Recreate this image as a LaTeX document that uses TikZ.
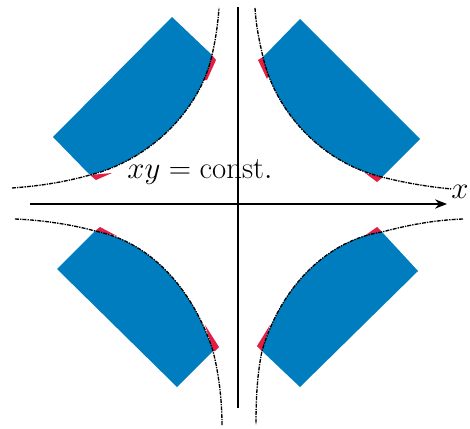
\documentclass[tikz,border=0pt]{standalone}
\usetikzlibrary{arrows.meta}
\definecolor{lobeblue}{RGB}{0, 125, 190}
\definecolor{rimred}{RGB}{225, 30, 70}
\begin{document}
\begin{tikzpicture}[
            x=0.75pt, y=-0.75pt,
            lobe/.style={fill=lobeblue},
            rim/.style={fill=rimred},
            hyper/.style={black, line width=1pt, dash pattern=on 3pt off 0.8pt on 1pt off 0.8pt},
            axis/.style={black, line width=1pt},
            label/.style={inner sep=0pt, scale=0.93, font=\fontsize{24.88}{30}\selectfont},
        ]
            \useasboundingbox (0,0) rectangle (470,428);

            % red ends under the blue regions
            \fill[rim] (212,55) -- (216,60) -- (207,80) -- (203,80) -- cycle;
            \fill[rim] (90,175) -- (96,180) -- (112,173) -- cycle;
            \fill[rim] (263,57) -- (258,60) -- (267,79) -- (270,72) -- cycle;
            \fill[rim] (365,173) -- (377,182) -- (383,177) -- cycle;
            \fill[rim] (95,231) -- (100,227) -- (117,236) -- cycle;
            \fill[rim] (205,325) -- (219,347) -- (215,351) -- (213,351) -- cycle;
            \fill[rim] (363,237) -- (377,227) -- (382,232) -- cycle;
            \fill[rim] (270,325) -- (257,346) -- (262,351) -- cycle;

            % blue regions
            \fill[lobe] (90,175) .. controls (150,160) and (200,110) .. (212,55)
                -- (172,17) -- (53,137) -- cycle;
            \fill[lobe] (263,57) .. controls (275,110) and (320,162) .. (382,177)
                -- (420,139) -- (300,19) -- cycle;
            \fill[lobe] (95,231) .. controls (155,243) and (195,295) .. (213,351)
                -- (177,387) -- (57,269) -- cycle;
            \fill[lobe] (382,232) .. controls (330,240) and (282,283) .. (262,351)
                -- (300,387) -- (418,271) -- cycle;

            % hyperbola branches
            \draw[hyper] (12,188) .. controls (40,186) and (65,182) .. (90,175)
                .. controls (150,160) and (200,110) .. (212,55) .. controls (216,38) and (218,22) .. (219,8);
            \draw[hyper] (255,8) .. controls (256,25) and (259,40) .. (263,57)
                .. controls (275,110) and (320,162) .. (382,177) .. controls (405,183) and (430,187) .. (452,189);
            \draw[hyper] (15,219) .. controls (40,220) and (70,224) .. (95,231)
                .. controls (155,243) and (195,295) .. (213,351) .. controls (219,375) and (222,400) .. (222,426);
            \draw[hyper] (463,219) .. controls (435,220) and (408,225) .. (382,232)
                .. controls (330,240) and (282,283) .. (262,351) .. controls (257,375) and (256,400) .. (256,424);

            % axes
            \coordinate (xstart) at (30,204);
            \coordinate (xend) at (447,204);
            \coordinate (ystart) at (238,408);
            \coordinate (yend) at (238,7);
            \draw[axis, -{Stealth[length=9pt, width=7pt, inset=3pt]}] (xstart) -- (xend);
            \draw[axis, line width=1.7pt] (ystart) -- (yend);

            \node[label] (curvelabel) at (200,172) {$xy=\mathrm{const.}$};
            \node[label] (xlabel) at (460,192) {$x$};
        \end{tikzpicture}
\end{document}
